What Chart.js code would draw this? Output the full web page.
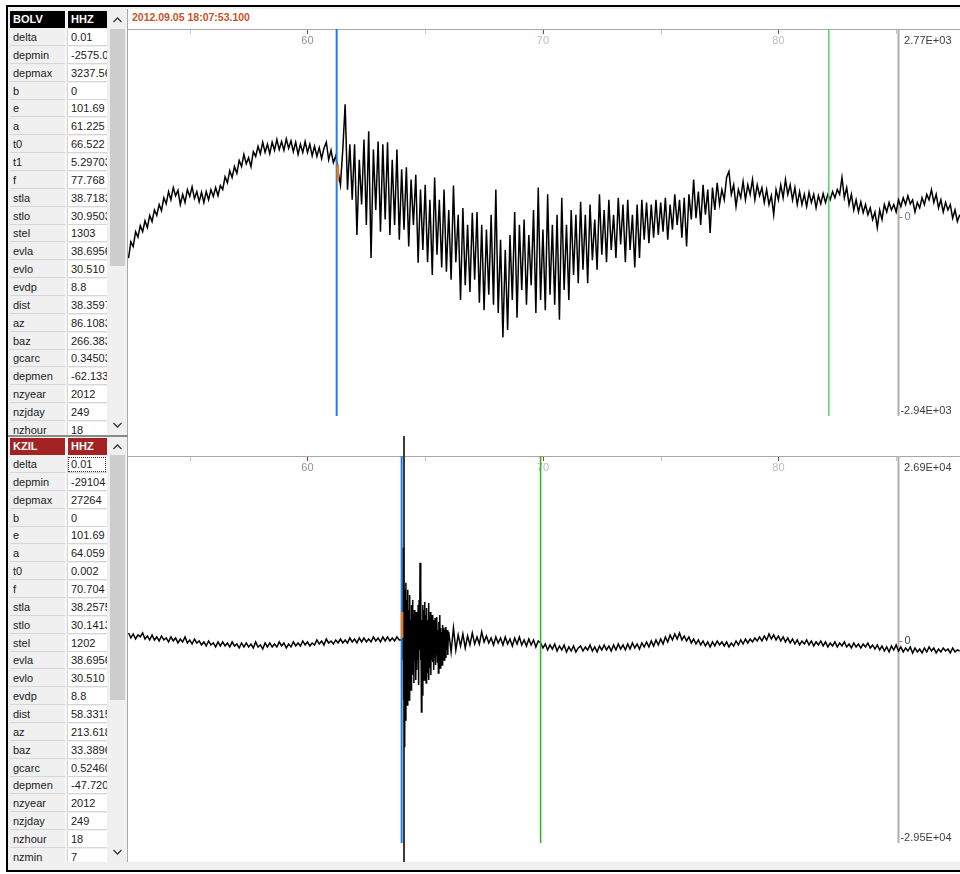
<!DOCTYPE html>
<html>
<head>
<meta charset="utf-8">
<title>BOLV / KZIL HHZ</title>
<script src="https://cdn.jsdelivr.net/npm/chart.js@4.4.1/dist/chart.umd.min.js"></script>
<style>
  body { margin: 0; width: 960px; height: 874px; overflow: hidden; position: relative; background: #fff;
         font-family: "Liberation Sans", Arial, sans-serif; }
  #frame { position: absolute; left: 6px; top: 5px; width: 960px; height: 863px; border: 2px solid #000; background: #f0f0f0; }
  #plotbg { position: absolute; left: 127px; top: 9px; width: 833px; height: 853px; background: #fff; border-left: 1px solid #a8a8a8; }
  #stamp { position: absolute; left: 132px; top: 10px; height: 15px; line-height: 15px; font-size: 10.5px; font-weight: bold; color: #c8532a; }
  canvas { position: absolute; left: 128px; }
  .tbl { position: absolute; left: 10px; width: 98px; overflow: hidden; }
  .cell { position: absolute; height: 17px; line-height: 17px; font-size: 11px; color: #1a1a1a; white-space: nowrap; overflow: hidden;
          box-sizing: border-box; padding-left: 3px; border-bottom: 1px solid #d6d6d6; }
  .c1 { left: 0; width: 56px; background: #f0f0f0; border-right: 1px solid #fff; }
  .c2 { left: 57px; width: 40px; background: #fff; border-left: 1px solid #d6d6d6; }
  .head { color: #fff; font-weight: bold; border-bottom: none; }
  .focus { outline: 1px dotted #333; outline-offset: -2px; }
  .sbar { position: absolute; left: 108px; width: 19px; background: #f0f0f0; }
  .thumb { position: absolute; left: 2px; width: 15px; background: #cdcdcd; }
  .arrow { position: absolute; left: 5px; line-height: 0; }
  .arrow svg { display: block; }
  #split { position: absolute; left: 8px; top: 435px; width: 120px; height: 2px; background: #8a8a8a; }
</style>
</head>
<body>
<div id="frame"></div>
<div id="plotbg"></div>
<div id="stamp"></div>
<div id="split"></div>
<canvas id="chartTop" width="832" height="427" style="top:9px"></canvas>
<canvas id="chartBottom" width="832" height="432" style="top:436px"></canvas>

<script>
// seismogram viewer: two HHZ traces with SAC header tables

// time axis (seconds after reference time)
const timeMin = 52.378;
const timeMax = 87.712;
const tickTimes = [55, 60, 65, 70, 75, 80, 85];
const tickLabels = [60, 70, 80];
const axisEndTime = 85.07;

const stations = ['BOLV', 'KZIL'];
const channels = ['HHZ', 'HHZ'];
const headColors = ['#000000', '#a32323'];
const stampText = '2012.09.05 18:07:53.100';
const ampMax = [2770, 26900];
const ampMin = [-2940, -29500];
const pickA = [61.24, 64.0];
const pickF = [82.14, 69.9];
const cursorTime = [null, 64.1];
const onsetMarkTime = [61.29, 64.02];
const onsetMarkLow = [520, 380];
const onsetMarkHigh = [770, 4180];

// BOLV HHZ, samples every 0.1 s from 52.4 s
const bolvStart = 52.4;
const bolvStep = 0.1;
const bolvValues = [
  -610,-370,-440,-220,-300,-130,-220,-60,-160,20,
  -70,100,20,180,90,280,190,370,250,430,
  310,390,180,330,210,400,300,440,270,370,
  220,360,210,370,250,400,300,430,310,460,
  400,590,500,680,580,740,640,830,740,920,
  780,870,740,960,890,1040,930,1100,950,1070,
  930,1100,980,1140,990,1110,980,1150,1010,1120,
  960,1100,920,1070,950,1110,950,1070,900,1040,
  890,1020,860,1010,1100,840,980,800,900,670,
  470,990,1660,400,1070,250,1070,-270,840,180,
  1140,-120,1260,-610,990,100,1110,-220,1070,-40,
  1100,-270,840,-120,990,-340,700,-190,730,-440,
  550,-120,620,-680,400,-490,470,-670,250,-860,
  580,-560,250,-750,400,-810,100,-930,460,-670,
  30,-1230,130,-1010,-120,-1110,60,-930,70,-1270,
  -120,-1380,-190,-1150,30,-1300,400,-1420,-340,-1780,
  -490,-1670,-270,-1230,70,-1490,-120,-1080,-40,-1300,
  -270,-1010,100,-1420,430,-1230,-190,-1380,330,-1150,
  -120,-1300,30,-1520,280,-1080,-120,-1230,100,-860,
  30,-980,220,-780,30,-980,180,-640,-40,-780,
  330,-560,100,-670,250,-490,30,-610,280,-410,
  180,-670,250,-490,30,-750,180,-610,250,-340,
  210,-390,180,-310,250,-270,210,-220,280,-340,
  180,-190,330,-120,250,-310,280,-440,330,-40,
  550,-20,370,-120,470,30,400,-240,430,100,
  500,180,400,250,580,670,330,470,150,400,
  280,520,250,470,330,550,250,470,310,430,
  210,400,180,310,30,400,250,470,280,550,
  330,470,250,430,180,370,180,330,150,360,
  210,330,130,310,190,340,210,330,250,370,
  280,400,330,580,280,430,180,330,100,250,
  70,220,60,180,30,130,-40,70,-160,100,
  -40,180,70,210,100,180,70,250,150,280,
  180,310,190,250,70,210,130,280,180,330,
  250,400,210,330,130,250,70,210,100,180,
  -20,100,-70,30
];

// KZIL HHZ: quiet part (0.1 s), P burst (0.02 s), coda (0.1 s)
const kzilQuietStart = 52.4;
const kzilQuietStep = 0.1;
const kzilQuiet = [
  1110,380,960,230,820,530,1110,230,670,90,
  820,90,530,-60,670,90,380,-200,530,-60,
  380,-350,230,-200,530,-350,90,-500,230,-350,
  -60,-640,-200,-790,-60,-640,-350,-930,-200,-790,
  -200,-790,-350,-930,-200,-790,-500,-1080,-350,-930,
  -350,-930,-500,-1080,-200,-930,-640,-1230,-350,-930,
  -350,-930,-500,-930,-200,-790,-350,-1080,-500,-930,
  -200,-790,-350,-790,-60,-640,-200,-790,-350,-640,
  90,-500,-60,-640,230,-350,-60,-500,90,-350,
  230,-350,90,-350,380,-200,230,-350,380,-200,
  380,-200,230,-200,530,-60,380,-200,530,-60,
  530,-60,380,-60,530,90
];
const kzilBurstStart = 64.0;
const kzilBurstStep = 0.02;
const kzilBurst = [
  90,4180,-2830,13520,-8670,7390,-15530,5930,-11590,8410,
  -7210,5930,-9400,7390,-5750,4470,-8670,6660,-4290,3010,-7210,5200,-3560,
  5930,-5020,3740,-6190,4470,-2830,3010,-5750,4180,-4290,2280,-2830,
  5200,-6480,5930,-1370,11330,-2830,7390,-10420,3010,-7940,5200,-5020,
  4470,-5750,5640,-4290,3740,-6190,4760,-4580,3010,-3560,5490,-5750,3300,-4000,4180,-5020,2720,-2830,
  3740,-3120,3010,-4290,2280,-2540,3300,-3560,1840,-2100,3450,-3120,1550,-4730,2720,-2100,3740,-4000,1840,-2830,1260,
  -3560,2280,-2100,1840,-2830,1550,-1660,1990,-2540,1260,-1370,1550,-2100,960
];
const kzilCodaStart = 66.0;
const kzilCodaStep = 0.1;
const kzilCoda = [
  1260,-1660,1840,-1370,820,
  -790,960,-1080,670,-640,1110,-500,
  530,-500,1260,-200,670,-350,380,-640,530,-350,
  380,-640,530,-500,230,-790,380,-500,530,-640,90,-790,230,-640,90,-930,-60,
  -350,-1080,-500,-1370,-640,-1230,-500,-1520,-790,-1370,-640,-1660,-930,-1520,-790,-1660,-1080,
  -790,-1520,-930,-1370,-640,-1520,-930,-1660,-790,-1370,
  -640,-1370,-790,-1520,-640,-1370,-500,-1230,-640,-1370,
  -500,-1230,-350,-1080,-500,-1230,-350,-930,-200,-930,
  -60,-790,90,-640,
  230,-500,530,-200,820,90,960,230,1110,90,
  670,-60,530,-350,230,-500,90,
  -640,-60,-790,-200,-930,-200,-790,-60,-640,-200,
  -790,-200,-930,-350,-790,-60,-640,90,-500,230,
  -350,230,-200,380,-60,
  530,-60,670,90,960,230,820,90,670,-60,
  530,-200,380,
  -350,230,-500,90,-640,-60,-500,90,-640,-60,
  -790,-200,-640,-60,-790,-200,-930,-350,-790,-200,
  -930,-350,-790,-200,-930,-500,-1080,-350,-930,-500,
  -1080,-500,-930,-350,-1080,-640,-1230,
  -640,-1370,-790,-1520,-930,-1660,-790,-1370,-640,-1520,
  -930,-1660,-1080,-1520,-930,-1810,-1080,-1660,-1230,-1810,
  -1080,-1660,-930,-1520,-1080,-1810,-1230,-1660,-1080,-1520,
  -1230,-1810,-1080,-1660,-1370,-1520
];

// SAC header tables
const bolvNames = ['delta','depmin','depmax','b','e','a','t0','t1','f','stla','stlo','stel','evla','evlo','evdp','dist','az','baz','gcarc','depmen','nzyear','nzjday','nzhour'];
const bolvHeader = ['0.01','-2575.03','3237.56','0','101.69','61.225','66.522','5.29703','77.768','38.7183','30.9503','1303','38.6956','30.510','8.8','38.3597','86.1083','266.383','0.34503','-62.1333','2012','249','18'];
const kzilNames = ['delta','depmin','depmax','b','e','a','t0','f','stla','stlo','stel','evla','evlo','evdp','dist','az','baz','gcarc','depmen','nzyear','nzjday','nzhour','nzmin'];
const kzilHeader = ['0.01','-29104','27264','0','101.69','64.059','0.002','70.704','38.2575','30.1413','1202','38.6956','30.510','8.8','58.3315','213.618','33.3896','0.52460','-47.7200','2012','249','18','7'];

const rowH = 17.86;

function chevron(up) {
  const pts = up ? '0.5,5 4.5,1 8.5,5' : '0.5,1 4.5,5 8.5,1';
  return `<svg width="9" height="6"><polyline points="${pts}" fill="none" stroke="#333" stroke-width="1.3"/></svg>`;
}

function buildTable(top, bottom, k, names, values, thumbTop, thumbBottom) {
  const box = document.createElement('div');
  box.className = 'tbl';
  box.style.top = top + 'px';
  box.style.height = (bottom - top) + 'px';
  let html = `<div class="cell c1 head" style="top:0;background:${headColors[k]}">${stations[k]}</div>`;
  html += `<div class="cell c2 head" style="top:0;background:${headColors[k]};border-left:1px solid #fff">${channels[k]}</div>`;
  names.forEach((n, i) => {
    const y = 18 + i * rowH;
    const focus = (k === 1 && i === 0) ? ' focus' : '';
    html += `<div class="cell c1" style="top:${y}px">${n}</div>`;
    html += `<div class="cell c2${focus}" style="top:${y}px">${values[i]}</div>`;
  });
  box.innerHTML = html;
  document.body.appendChild(box);

  const bar = document.createElement('div');
  bar.className = 'sbar';
  bar.style.top = top + 'px';
  bar.style.height = (bottom - top) + 'px';
  bar.innerHTML = `<div class="arrow" style="top:6px">${chevron(true)}</div>` +
    `<div class="thumb" style="top:${thumbTop - top}px;height:${thumbBottom - thumbTop}px"></div>` +
    `<div class="arrow" style="top:${bottom - top - 13}px">${chevron(false)}</div>`;
  document.body.appendChild(bar);
}

function buildSeries(parts) {
  const pts = [];
  parts.forEach(p => p.values.forEach((v, i) => pts.push({ x: +(p.start + i * p.step).toFixed(3), y: v })));
  return pts;
}

function sci(v) {
  const [m, e] = v.toExponential(2).split('e');
  const n = parseInt(e, 10);
  return m + 'E' + (n < 0 ? '-' : '+') + String(Math.abs(n)).padStart(2, '0');
}

const panelPlugin = {
  id: 'panel',
  beforeDatasetsDraw(chart, args, opts) {
    const k = opts.k;
    const { ctx, chartArea: a, scales: { x, y } } = chart;
    ctx.save();
    // top rule with tick marks
    ctx.strokeStyle = '#a8a8a8';
    ctx.lineWidth = 1;
    ctx.beginPath(); ctx.moveTo(0, a.top + 0.5); ctx.lineTo(a.right, a.top + 0.5); ctx.stroke();
    tickTimes.forEach(t => {
      const px = Math.round(x.getPixelForValue(t)) + 0.5;
      const major = tickLabels.includes(t);
      ctx.strokeStyle = major ? '#e02020' : '#c4c4c4';
      ctx.beginPath(); ctx.moveTo(px, a.top + 1); ctx.lineTo(px, a.top + 5); ctx.stroke();
    });
    ctx.font = '11px "Liberation Sans", Arial';
    ctx.textAlign = 'center';
    ctx.textBaseline = 'middle';
    tickLabels.forEach((t, i) => {
      ctx.fillStyle = i === 0 ? '#8a949e' : '#bdbdbd';
      ctx.fillText(String(t), x.getPixelForValue(t), a.top + 11.5);
    });
    // right amplitude axis
    const ax = Math.round(x.getPixelForValue(axisEndTime)) + 0.5;
    ctx.strokeStyle = '#b0b0b0';
    ctx.lineWidth = 2;
    ctx.beginPath(); ctx.moveTo(ax, a.top); ctx.lineTo(ax, a.bottom); ctx.stroke();
    // cursor, under the trace
    if (cursorTime[k] !== null) {
      const cx = x.getPixelForValue(cursorTime[k]);
      ctx.strokeStyle = '#3a3a3a';
      ctx.lineWidth = 2;
      ctx.beginPath(); ctx.moveTo(cx, 0); ctx.lineTo(cx, chart.height - 6); ctx.stroke();
    }
    ctx.restore();
  },
  afterDatasetsDraw(chart, args, opts) {
    const k = opts.k;
    const { ctx, chartArea: a, scales: { x, y } } = chart;
    ctx.save();
    // picks
    const pa = x.getPixelForValue(pickA[k]);
    ctx.strokeStyle = '#1e7fec';
    ctx.lineWidth = 2;
    ctx.beginPath(); ctx.moveTo(pa, a.top); ctx.lineTo(pa, a.bottom); ctx.stroke();
    const pf = x.getPixelForValue(pickF[k]);
    ctx.strokeStyle = k === 0 ? '#5ad35a' : '#26b426';
    ctx.lineWidth = 1.5;
    ctx.beginPath(); ctx.moveTo(pf, a.top); ctx.lineTo(pf, a.bottom); ctx.stroke();
    // onset mark
    ctx.strokeStyle = '#f07818';
    ctx.lineWidth = 2.5;
    const om = x.getPixelForValue(onsetMarkTime[k]);
    ctx.beginPath(); ctx.moveTo(om, y.getPixelForValue(onsetMarkLow[k])); ctx.lineTo(om, y.getPixelForValue(onsetMarkHigh[k])); ctx.stroke();
    // amplitude labels
    const ax = Math.round(x.getPixelForValue(axisEndTime)) + 0.5;
    ctx.font = '11px "Liberation Sans", Arial';
    ctx.fillStyle = '#3c3c46';
    ctx.textAlign = 'right';
    ctx.textBaseline = 'middle';
    ctx.fillText(sci(y.max), ax + 53, a.top + 11.5);
    ctx.fillText(sci(y.min), ax + 53, a.bottom - 5);
    const y0 = y.getPixelForValue(0);
    ctx.strokeStyle = '#e07070';
    ctx.lineWidth = 1;
    ctx.beginPath(); ctx.moveTo(ax, Math.round(y0) + 0.5); ctx.lineTo(ax + 4, Math.round(y0) + 0.5); ctx.stroke();
    ctx.textAlign = 'left';
    ctx.fillStyle = k === 0 ? '#6a7a8c' : '#444';
    ctx.fillText('0', ax + 6, y0);
    ctx.restore();
  }
};

function makeChart(id, k, points, padTop, padBottom) {
  return new Chart(document.getElementById(id), {
    type: 'line',
    data: {
      datasets: [{
        data: points,
        borderColor: '#000',
        borderWidth: 1.5,
        pointRadius: 0,
        tension: 0,
        fill: false,
        clip: false
      }]
    },
    options: {
      responsive: false,
      animation: false,
      devicePixelRatio: 1,
      events: [],
      layout: { padding: { top: padTop, bottom: padBottom, left: 0, right: 0 } },
      scales: {
        x: { type: 'linear', min: timeMin, max: timeMax, display: false },
        y: { type: 'linear', min: ampMin[k], max: ampMax[k], display: false }
      },
      plugins: { legend: { display: false }, tooltip: { enabled: false }, panel: { k } }
    },
    plugins: [panelPlugin]
  });
}

document.addEventListener('DOMContentLoaded', () => {
  document.getElementById('stamp').textContent = stampText;
  buildTable(11, 435, 0, bolvNames, bolvHeader, 29, 266);
  buildTable(438, 862, 1, kzilNames, kzilHeader, 455, 700);

  const bolv = buildSeries([{ start: bolvStart, step: bolvStep, values: bolvValues }]);
  const kzil = buildSeries([
    { start: kzilQuietStart, step: kzilQuietStep, values: kzilQuiet },
    { start: kzilBurstStart, step: kzilBurstStep, values: kzilBurst },
    { start: kzilCodaStart, step: kzilCodaStep, values: kzilCoda }
  ]);
  makeChart('chartTop', 0, bolv, 20, 20);
  makeChart('chartBottom', 1, kzil, 20, 25);
});
</script>
</body>
</html>
